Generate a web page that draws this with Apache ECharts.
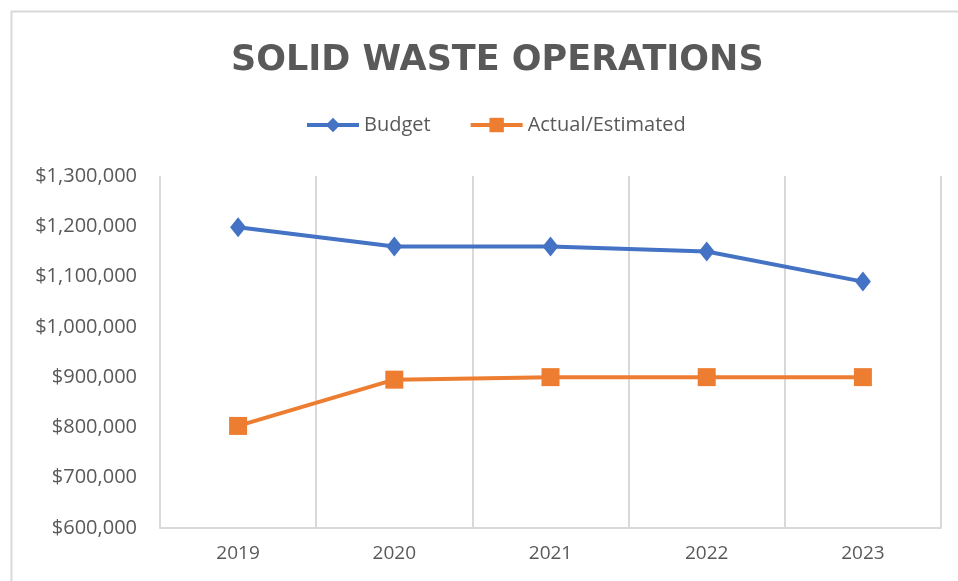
<!DOCTYPE html>
<html>
<head>
<meta charset="utf-8">
<script src="https://cdn.jsdelivr.net/npm/echarts@6/dist/echarts.min.js"></script>
<style>
  html, body { margin: 0; padding: 0; background: #fff; }
  #main { width: 958px; height: 581px; }
</style>
</head>
<body>
<div id="main"></div>
<script>
// chart data
const years = ['2019', '2020', '2021', '2022', '2023'];
const budget = [1198000, 1160000, 1160000, 1150000, 1090000];
const actual = [803000, 895000, 900000, 900000, 900000];

const textColor = '#595959';
const gridColor = '#d9d9d9';

const chart = echarts.init(document.getElementById('main'));

const option = {
    backgroundColor: '#fff',
    color: ['#4472C4', '#ED7D31'],
    title: {
        text: 'SOLID WASTE OPERATIONS',
        left: 226,
        top: 38,
        textStyle: {
            fontFamily: 'DejaVu Sans',
            fontWeight: 'bold',
            fontSize: 35,
            color: textColor
        }
    },
    legend: {
        top: 110,
        left: 300,
        itemWidth: 52,
        itemHeight: 18,
        itemGap: 38,
        lineStyle: { width: 4 },
        textStyle: {
            fontFamily: 'Open Sans',
            fontSize: 20,
            color: textColor
        },
        data: ['Budget', 'Actual/Estimated']
    },
    grid: {
        left: 160,
        right: 17,
        top: 176,
        bottom: 53
    },
    xAxis: {
        type: 'category',
        data: years,
        boundaryGap: true,
        axisLine: { show: true, lineStyle: { color: gridColor, width: 2 } },
        axisTick: { show: false },
        axisLabel: {
            margin: 16,
            fontFamily: 'Open Sans',
            fontSize: 19,
            color: textColor
        },
        splitLine: {
            show: true,
            lineStyle: { color: gridColor, width: 2 }
        }
    },
    yAxis: {
        type: 'value',
        min: 600000,
        max: 1300000,
        interval: 100000,
        axisLine: { show: false },
        axisTick: { show: false },
        splitLine: { show: false },
        axisLabel: {
            margin: 23,
            fontFamily: 'Open Sans',
            fontSize: 20,
            color: textColor,
            formatter: v => '$' + v.toLocaleString('en-US')
        }
    },
    series: [
        {
            name: 'Budget',
            type: 'line',
            data: budget,
            symbol: 'diamond',
            symbolSize: [16, 20],
            lineStyle: { width: 4 },
            itemStyle: { color: '#4472C4' }
        },
        {
            name: 'Actual/Estimated',
            type: 'line',
            data: actual,
            symbol: 'rect',
            symbolSize: 18,
            lineStyle: { width: 4 },
            itemStyle: { color: '#ED7D31' }
        }
    ],
    graphic: [
        {
            type: 'rect',
            left: 9,
            top: 9,
            shape: { width: 1000, height: 1000 },
            style: { fill: 'none', stroke: gridColor, lineWidth: 2 },
            silent: true
        }
    ]
};

chart.setOption(option);
</script>
</body>
</html>
